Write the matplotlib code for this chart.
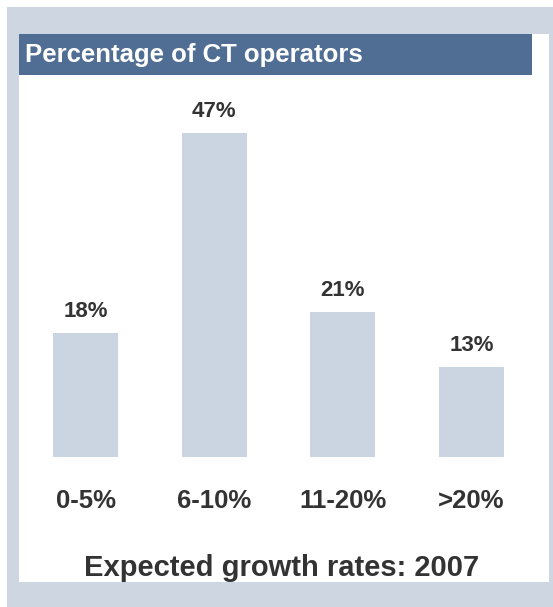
import matplotlib.pyplot as plt
from matplotlib.patches import Rectangle

categories = ['0-5%', '6-10%', '11-20%', '>20%']
shares = [18, 47, 21, 13]
panel_title = 'Percentage of CT operators'
chart_title = 'Expected growth rates: 2007'

W, H = 553, 607
frame_col = '#cdd6e1'
bar_col = '#cbd5e1'
head_col = '#506d93'
text_col = '#333333'

plt.rcParams['font.family'] = ['Liberation Sans', 'DejaVu Sans']

fig = plt.figure(figsize=(W / 100, H / 100), dpi=100, facecolor='white')


def px_rect(x0, y0, x1, y1, color):
    # rectangle given in pixel coords from the top left corner
    fig.patches.append(Rectangle((x0 / W, 1 - y1 / H), (x1 - x0) / W, (y1 - y0) / H,
                                 transform=fig.transFigure, facecolor=color,
                                 edgecolor='none', zorder=-5))


px_rect(7, 7, W, H, frame_col)
px_rect(19, 34, 549, 582, 'white')
px_rect(19, 34, 532, 75, head_col)

fig.text(25 / W, 1 - 62 / H, panel_title, color='white', fontsize=18.5,
         fontweight='bold', ha='left', va='baseline')

# bar area: y=0 at pixel 457, about 6.9 px per percent
ax = fig.add_axes([21.2 / W, 1 - 457 / H, 514.7 / W, 377 / H])
ax.set_zorder(5)
ax.set_facecolor('none')
x = range(len(categories))
ax.bar(x, shares, width=0.505, color=bar_col)
ax.set_xlim(-0.5, 3.5)
ax.set_ylim(0, 377 / 6.9)
ax.axis('off')

for i, v in zip(x, shares):
    ax.annotate(f'{v}%', xy=(i, v), xytext=(0, 16), textcoords='offset pixels',
                ha='center', va='baseline', fontsize=16, fontweight='bold',
                color=text_col, annotation_clip=False)
for i, lab in zip(x, categories):
    ax.annotate(lab, xy=(i, 0), xytext=(0, -51), textcoords='offset pixels',
                ha='center', va='baseline', fontsize=18.5, fontweight='bold',
                color=text_col, annotation_clip=False)

fig.text(282 / W, 1 - 576.5 / H, chart_title, color=text_col, fontsize=21,
         fontweight='bold', ha='center', va='baseline')

fig.savefig('out.png', dpi=100, facecolor='white')
